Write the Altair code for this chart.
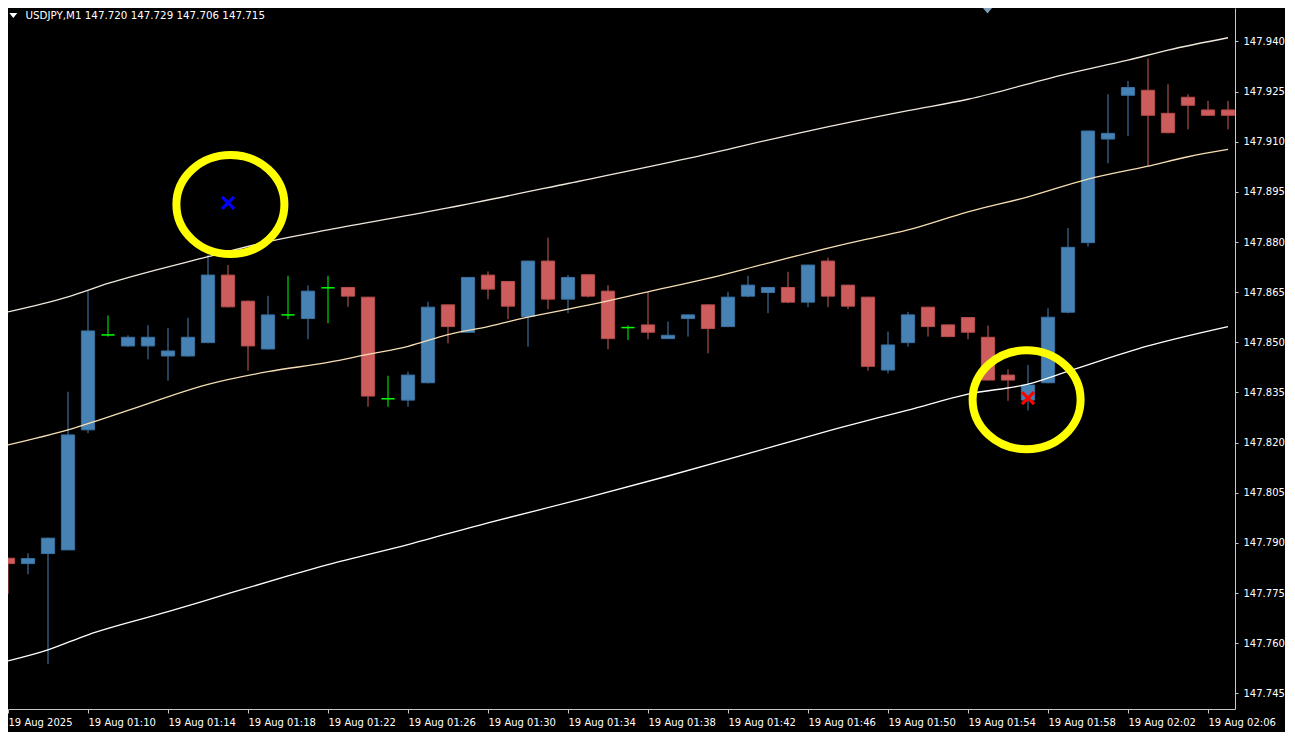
import json
import altair as alt
import pandas as pd

# ---------------- data ----------------
candle_idx = list(range(62))  # one-minute bars, 01:06 ... 02:07
open_ = [147.7854, 147.7838, 147.7868, 147.7879, 147.8238, 147.8522, 147.8489, 147.8489, 147.8459, 147.8459,
         147.8499, 147.8701, 147.8623, 147.8480, 147.8582, 147.8571, 147.8663, 147.8664, 147.8635, 147.8331,
         147.8327, 147.8379, 147.8612, 147.8530, 147.8701, 147.8682, 147.8577, 147.8743, 147.8629, 147.8702,
         147.8653, 147.8544, 147.8552, 147.8511, 147.8571, 147.8612, 147.8547, 147.8638, 147.8649, 147.8664,
         147.8620, 147.8743, 147.8671, 147.8635, 147.8417, 147.8499, 147.8605, 147.8552, 147.8574, 147.8515,
         147.8402, 147.8327, 147.8379, 147.8590, 147.8798, 147.9108, 147.9239, 147.9254, 147.9185, 147.9233,
         147.9195, 147.9195]
high = [147.7856, 147.7869, 147.7916, 147.8352, 147.8654, 147.8580, 147.8521, 147.8551, 147.8543, 147.8573,
        147.8761, 147.8731, 147.8625, 147.8639, 147.8699, 147.8670, 147.8699, 147.8665, 147.8636, 147.8400,
        147.8412, 147.8621, 147.8612, 147.8695, 147.8712, 147.8683, 147.8744, 147.8813, 147.8701, 147.8703,
        147.8671, 147.8550, 147.8650, 147.8562, 147.8583, 147.8613, 147.8651, 147.8699, 147.8665, 147.8711,
        147.8732, 147.8753, 147.8672, 147.8636, 147.8532, 147.8591, 147.8606, 147.8553, 147.8575, 147.8550,
        147.8419, 147.8432, 147.8602, 147.8842, 147.9133, 147.9242, 147.9282, 147.9349, 147.9272, 147.9242,
        147.9222, 147.9222]
low = [147.7747, 147.7806, 147.7537, 147.7878, 147.8228, 147.8517, 147.8486, 147.8449, 147.8385, 147.8457,
       147.8497, 147.8604, 147.8415, 147.8478, 147.8569, 147.8509, 147.8557, 147.8606, 147.8307, 147.8307,
       147.8307, 147.8377, 147.8497, 147.8528, 147.8629, 147.8569, 147.8487, 147.8599, 147.8587, 147.8634,
       147.8479, 147.8507, 147.8509, 147.8510, 147.8517, 147.8467, 147.8545, 147.8635, 147.8587, 147.8617,
       147.8605, 147.8605, 147.8599, 147.8415, 147.8407, 147.8487, 147.8517, 147.8515, 147.8509, 147.8386,
       147.8325, 147.8296, 147.8377, 147.8587, 147.8786, 147.9035, 147.9117, 147.9025, 147.9125, 147.9137,
       147.9177, 147.9137]
close = [147.7838, 147.7853, 147.7914, 147.8223, 147.8534, 147.8522, 147.8515, 147.8515, 147.8474, 147.8515,
         147.8701, 147.8606, 147.8489, 147.8582, 147.8582, 147.8653, 147.8663, 147.8638, 147.8339, 147.8331,
         147.8402, 147.8605, 147.8547, 147.8694, 147.8659, 147.8608, 147.8743, 147.8629, 147.8694, 147.8638,
         147.8511, 147.8544, 147.8530, 147.8521, 147.8582, 147.8541, 147.8635, 147.8671, 147.8664, 147.8620,
         147.8731, 147.8638, 147.8608, 147.8428, 147.8492, 147.8582, 147.8547, 147.8517, 147.8530, 147.8387,
         147.8387, 147.8372, 147.8575, 147.8784, 147.9132, 147.9125, 147.9262, 147.9179, 147.9127, 147.9209,
         147.9179, 147.9179]

upper_idx = [0, 3, 5, 10, 13, 16, 22, 28, 34, 40, 45, 48, 53, 56, 58, 61]
upper_val = [147.8591, 147.8636, 147.8676, 147.8756, 147.8801, 147.8836, 147.8902, 147.8975, 147.9050,
             147.9132, 147.9193, 147.9227, 147.9304, 147.9344, 147.9374, 147.9411]
mid_idx = [0, 3, 6, 10, 13, 16, 18, 20, 22, 24, 26, 29, 32, 35, 38, 42, 45, 48, 51, 54, 57, 59, 61]
mid_val = [147.8193, 147.8238, 147.8296, 147.8374, 147.8412, 147.8440, 147.8464, 147.8488, 147.8523,
           147.8547, 147.8575, 147.8611, 147.8651, 147.8691, 147.8737, 147.8796, 147.8836, 147.8890,
           147.8935, 147.8988, 147.9027, 147.9055, 147.9077]
lower_idx = [0, 2, 4, 8, 11, 14, 16, 20, 24, 29, 33, 37, 42, 45, 48, 51, 53, 57, 61]
lower_val = [147.7547, 147.7580, 147.7625, 147.7694, 147.7748, 147.7801, 147.7835, 147.7895, 147.7960,
             147.8036, 147.8100, 147.8167, 147.8251, 147.8297, 147.8345, 147.8375, 147.8413, 147.8489, 147.8547]

circle_idx = [11.12, 50.93]
circle_price = [147.8912, 147.8328]
buy_idx = [11]
buy_price = [147.8917]
sell_idx = [51]
sell_price = [147.8333]

tick_idx = list(range(0, 61, 4))
tick_labels = ["19 Aug 2025", "19 Aug 01:10", "19 Aug 01:14", "19 Aug 01:18", "19 Aug 01:22",
               "19 Aug 01:26", "19 Aug 01:30", "19 Aug 01:34", "19 Aug 01:38", "19 Aug 01:42",
               "19 Aug 01:46", "19 Aug 01:50", "19 Aug 01:54", "19 Aug 01:58", "19 Aug 02:02",
               "19 Aug 02:06"]
price_ticks = [147.745, 147.760, 147.775, 147.790, 147.805, 147.820, 147.835, 147.850,
               147.865, 147.880, 147.895, 147.910, 147.925, 147.940]
header_text = "USDJPY,M1  147.720 147.729 147.706 147.715"

# ---------------- tables ----------------
df = pd.DataFrame({"k": candle_idx, "o": open_, "h": high, "l": low, "c": close})
df["dir"] = ["up" if c > o else ("down" if c < o else "doji") for o, c in zip(df.o, df.c)]
df["kl"] = df.k - 0.33
df["kr"] = df.k + 0.33
bodies = df[df.dir != "doji"]
dojis = df[df.dir == "doji"]

upper = pd.DataFrame({"k": upper_idx, "v": upper_val})
mid = pd.DataFrame({"k": mid_idx, "v": mid_val})
lower = pd.DataFrame({"k": lower_idx, "v": lower_val})
circles = pd.DataFrame({"k": circle_idx, "v": circle_price})
buys = pd.DataFrame({"k": buy_idx, "v": buy_price})
sells = pd.DataFrame({"k": sell_idx, "v": sell_price})

W, H = 1227, 701
xs = alt.Scale(domain=[0, 61.35], nice=False, zero=False)
ys = alt.Scale(domain=[147.7403, 147.9500], nice=False, zero=False)
font = "DejaVu Sans"
ax_col = "#C8C8C8"

label_expr = json.dumps(tick_labels) + "[round(datum.value / 4)]"
x_axis = alt.Axis(values=tick_idx, labelExpr=label_expr, orient="bottom", grid=False, title=None,
                  domainColor=ax_col, tickColor=ax_col, tickSize=4, labelColor="#FFFFFF",
                  labelFont=font, labelFontSize=10, labelAlign="left", labelBaseline="top",
                  labelPadding=4, labelOverlap=False, labelFlush=False)
y_axis = alt.Axis(values=price_ticks, format=".3f", orient="right", grid=False, title=None,
                  domainColor=ax_col, tickColor=ax_col, tickSize=3, labelColor="#FFFFFF",
                  labelFont=font, labelFontSize=10, labelPadding=5, labelBaseline="middle",
                  labelOverlap=False, labelFlush=False)


def X(field):
    return alt.X(field, type="quantitative", scale=xs, axis=x_axis)


def Y(field):
    return alt.Y(field, type="quantitative", scale=ys, axis=y_axis)


dir_color = alt.Scale(domain=["up", "down", "doji"], range=["#4682B4", "#CD5C5C", "#00FF00"])
dir_stroke = alt.Scale(domain=["up", "down"], range=["#3B72A2", "#B84E4E"])

wicks = alt.Chart(df).mark_rule(strokeWidth=1, clip=True).encode(
    x=X("k"), y=Y("l"), y2="h:Q",
    color=alt.Color("dir:N", scale=dir_color, legend=None),
)
body = alt.Chart(bodies).mark_rect(strokeWidth=1, clip=True).encode(
    x=X("kl"), x2="kr:Q", y=Y("o"), y2="c:Q",
    fill=alt.Fill("dir:N", scale=dir_color, legend=None),
    stroke=alt.Stroke("dir:N", scale=dir_stroke, legend=None),
)
doji_bar = alt.Chart(dojis).mark_rule(strokeWidth=1.5, color="#00FF00", clip=True).encode(
    x=X("kl"), x2="kr:Q", y=Y("o"),
)


def band(data, col):
    return alt.Chart(data).mark_line(color=col, strokeWidth=1.3, clip=True,
                                     interpolate="monotone").encode(x=X("k"), y=Y("v"))


ellipse = "M -1 0 A 1 0.917 0 1 0 1 0 A 1 0.917 0 1 0 -1 0 Z"
rings = alt.Chart(circles).mark_point(shape=ellipse, size=108 * 108, filled=False, color="#FFFF00",
                                      strokeWidth=8, opacity=1).encode(x=X("k"), y=Y("v"))
xshape = "M -1 -1 L 1 1 M -1 1 L 1 -1"
buy_mark = alt.Chart(buys).mark_point(shape=xshape, size=144, filled=False, color="#0000FF",
                                      strokeWidth=3.2, opacity=1).encode(x=X("k"), y=Y("v"))
sell_mark = alt.Chart(sells).mark_point(shape=xshape, size=144, filled=False, color="#FF0000",
                                        strokeWidth=3.2, opacity=1).encode(x=X("k"), y=Y("v"))

hdr = pd.DataFrame({"t": [header_text]})
header = alt.Chart(hdr).mark_text(font=font, fontSize=10.3, color="#FFFFFF", align="left",
                                  baseline="middle").encode(
    x=alt.value(17.5), y=alt.value(8), text="t:N")
tri = "M -1 -0.6 L 1 -0.6 L 0 0.6 Z"
header_tri = alt.Chart(hdr).mark_point(shape=tri, size=64, filled=True, color="#FFFFFF",
                                       opacity=1).encode(x=alt.value(5.3), y=alt.value(7.5))
shift_tri = alt.Chart(hdr).mark_point(shape=tri, size=135, filled=True, color="#7E9CB8",
                                      opacity=1).encode(x=alt.value(979.5), y=alt.value(2))

chart = alt.layer(
    wicks, body, doji_bar,
    band(upper, "#F0E8DC"), band(mid, "#F5DEB3"), band(lower, "#FFFFFF"),
    rings, buy_mark, sell_mark, header, header_tri, shift_tri,
).properties(
    width=W, height=H, background="#000000",
    padding={"left": 0, "top": 0, "right": 50, "bottom": 23},
    autosize=alt.AutoSizeParams(type="none"),
).configure_view(strokeWidth=0, fill="#000000")

chart.save("out.html", embed_options={"renderer": "svg", "actions": False})
